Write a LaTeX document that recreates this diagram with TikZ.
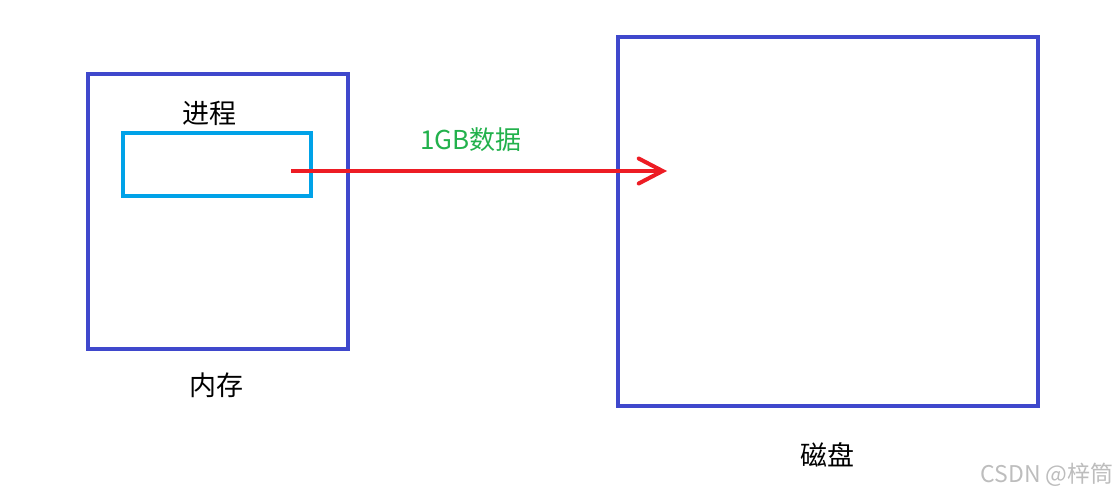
\documentclass[tikz,border=0pt]{standalone}
\usepackage{fontspec}
\setmainfont{Noto Sans CJK SC}
\usetikzlibrary{arrows.meta}
\definecolor{boxblue}{HTML}{3F48CC}
\definecolor{procblue}{HTML}{00A2E8}
\definecolor{arrred}{HTML}{ED1C24}
\definecolor{lblgreen}{HTML}{22B14C}
\definecolor{wmgray}{HTML}{BDBDBD}
\begin{document}
\begin{tikzpicture}[x=1pt,y=-1pt,
  bigbox/.style={draw=boxblue,line width=4pt,inner sep=0pt},
  procbox/.style={draw=procblue,line width=4pt,inner sep=0pt},
  lbl/.style={font=\fontsize{27}{29}\selectfont,text=black,inner sep=0pt},
  flow/.style={draw=arrred,line width=3.2pt,-{Straight Barb[length=24pt,width=25pt,line cap=round,line width=4pt]}}]
\useasboundingbox (0,0) rectangle (1120,497);
\node[bigbox,minimum width=260pt,minimum height=275pt] (mem) at (218,211.5) {};
\node[procbox,minimum width=188pt,minimum height=63pt] (procbox) at (217,164.5) {};
\node[bigbox,minimum width=420pt,minimum height=369pt] (disk) at (828,221.5) {};
\node[lbl] (proc) at (209,113) {进程};
\node[lbl] (memlbl) at (216,385) {内存};
\node[lbl] (disklbl) at (827,455) {磁盘};
\node[font=\fontsize{26}{28}\selectfont,text=lblgreen,inner sep=0pt] (data) at (471,140) {1GB数据};
\coordinate (s) at (291,171);
\coordinate (e) at (667,171);
\draw[flow] (s) -- (e);
\node[font=\fontsize{23}{25}\selectfont,text=wmgray,inner sep=0pt] (wm) at (1047,475) {CSDN @梓筒};
\end{tikzpicture}
\end{document}
